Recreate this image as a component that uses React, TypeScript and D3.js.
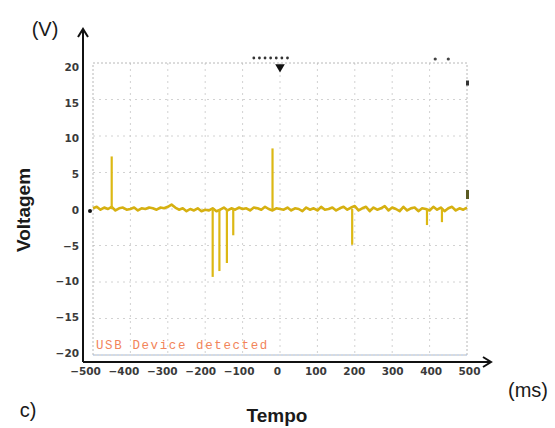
import { useRef, useEffect } from "react";
import * as d3 from "d3";

// tick labels
const timeTicks = [-500, -400, -300, -200, -100, 0, 100, 200, 300, 400, 500];
const voltTicks = [-20, -15, -10, -5, 0, 5, 10, 15, 20];

// baseline trace, one reading every 10 ms from -500 to 500 (V)
const baselineVolts = [
  0.1, 0.3, -0.1, 0.2, 0.0, 0.3, -0.2, 0.1, 0.2, -0.1,
  0.0, 0.2, -0.2, 0.1, 0.0, 0.2, 0.1, -0.1, 0.2, 0.1,
  0.3, 0.6, 0.2, -0.1, 0.1, -0.3, 0.0, -0.2, 0.1, -0.3,
  -0.1, -0.2, 0.1, -0.3, -0.1, 0.2, -0.2, 0.1, -0.1, 0.2,
  0.0, 0.1, -0.2, 0.2, 0.1, -0.1, 0.3, 0.0, -0.2, 0.1,
  0.0, -0.1, 0.2, -0.2, 0.1, 0.0, -0.3, 0.2, -0.1, 0.1,
  -0.2, 0.3, -0.1, 0.0, 0.2, -0.2, 0.1, 0.3, -0.1, 0.2,
  0.4, -0.2, 0.1, 0.3, -0.3, 0.2, -0.1, 0.1, 0.4, -0.2,
  0.2, 0.0, -0.3, 0.3, -0.2, 0.1, 0.2, -0.3, 0.1, 0.0,
  -0.2, 0.3, -0.1, 0.2, -0.3, 0.1, 0.3, -0.2, 0.1, -0.1,
  0.2,
];

// narrow spikes (ms, V)
const spikeTimes = [-450, -180, -162, -142, -125, -20, 193, 393, 433];
const spikeVolts = [7.2, -9.3, -8.5, -7.4, -3.6, 8.3, -4.9, -2.2, -1.8];

const W = 555;
const H = 428;

function App() {
  const svgRef = useRef(null);

  useEffect(() => {
    const svg = d3.select(svgRef.current);
    svg.selectAll("*").remove();

    // plot area (oscilloscope screen)
    const x = d3.scaleLinear().domain([-500, 500]).range([93, 467]);
    const y = d3.scaleLinear().domain([-20, 20]).range([355, 63]);
    // the printed labels sit a little off the screen grid
    const xLab = x.copy().range([85, 469]);
    const yLab = y.copy().range([353, 67]);

    const axisX = 83;
    const axisY = 362;

    // grid
    const grid = svg.append("g").attr("stroke", "#d2d2d2").attr("stroke-width", 1);
    grid
      .selectAll("line.v")
      .data(d3.range(-400, 500, 100))
      .join("line")
      .attr("x1", (d) => x(d))
      .attr("x2", (d) => x(d))
      .attr("y1", y(20))
      .attr("y2", y(-20))
      .attr("stroke-dasharray", "2,4");
    grid
      .selectAll("line.h")
      .data(d3.range(-15, 20, 5))
      .join("line")
      .attr("x1", x(-500))
      .attr("x2", x(500))
      .attr("y1", (d) => y(d))
      .attr("y2", (d) => y(d))
      .attr("stroke-dasharray", "2,4");

    // screen border
    svg
      .append("rect")
      .attr("x", x(-500))
      .attr("y", y(20))
      .attr("width", x(500) - x(-500))
      .attr("height", y(-20) - y(20))
      .attr("fill", "none")
      .attr("stroke", "#b8b8b8")
      .attr("stroke-dasharray", "2,2");
    svg
      .append("line")
      .attr("x1", x(-500))
      .attr("x2", x(500))
      .attr("y1", y(-20))
      .attr("y2", y(-20))
      .attr("stroke", "#9fb6d8")
      .attr("stroke-dasharray", "2,2");

    // scope markers
    svg
      .append("path")
      .attr("d", d3.symbol(d3.symbolTriangle, 40)())
      .attr("transform", `translate(${x(0)},${y(20) + 4}) rotate(180)`)
      .attr("fill", "#111");
    svg
      .append("g")
      .selectAll("circle")
      .data([-70, -55, -40, -25, -10, 5, 20])
      .join("circle")
      .attr("cx", (d) => x(d))
      .attr("cy", y(20) - 5)
      .attr("r", 1.4)
      .attr("fill", "#333");
    svg
      .append("g")
      .selectAll("circle")
      .data([415, 450])
      .join("circle")
      .attr("cx", (d) => x(d))
      .attr("cy", y(20) - 4)
      .attr("r", 1.6)
      .attr("fill", "#444");
    svg
      .append("circle")
      .attr("cx", x(-500) - 3)
      .attr("cy", y(0) + 2)
      .attr("r", 2)
      .attr("fill", "#111");
    svg
      .append("rect")
      .attr("x", x(500) - 1)
      .attr("y", y(17.6))
      .attr("width", 3)
      .attr("height", 5)
      .attr("fill", "#333");
    svg
      .append("rect")
      .attr("x", x(500) - 1)
      .attr("y", y(2.6))
      .attr("width", 3)
      .attr("height", 9)
      .attr("fill", "#5a5a22");

    // trace
    const gold = "#dcb814";
    const line = d3
      .line<number>()
      .x((d, i) => x(-500 + i * 10))
      .y((d) => y(d));
    svg
      .append("path")
      .datum(baselineVolts)
      .attr("d", line)
      .attr("fill", "none")
      .attr("stroke", "#d6b010")
      .attr("stroke-width", 2.6)
      .attr("stroke-linejoin", "round");
    svg
      .append("g")
      .selectAll("line")
      .data(spikeTimes)
      .join("line")
      .attr("x1", (d) => x(d))
      .attr("x2", (d) => x(d))
      .attr("y1", y(0))
      .attr("y2", (d, i) => y(spikeVolts[i]))
      .attr("stroke", gold)
      .attr("stroke-width", 2.2);

    // status text
    svg
      .append("text")
      .attr("x", x(-500) + 3)
      .attr("y", y(-20) - 6)
      .attr("font-family", "Liberation Mono, DejaVu Sans Mono, monospace")
      .attr("font-size", 12.5)
      .attr("letter-spacing", 1.6)
      .attr("fill", "#f2845a")
      .text("USB Device detected");

    // axes with arrows
    const axes = svg.append("g").attr("stroke", "#111").attr("stroke-width", 2).attr("fill", "none");
    axes.append("line").attr("x1", axisX).attr("x2", axisX).attr("y1", axisY).attr("y2", 29);
    axes.append("path").attr("d", `M${axisX - 5},${37} L${axisX},${29} L${axisX + 5},${37}`);
    axes.append("line").attr("x1", axisX).attr("x2", 491).attr("y1", axisY).attr("y2", axisY);
    axes.append("path").attr("d", `M${483},${axisY - 5} L${491},${axisY} L${483},${axisY + 5}`);

    const tickFont = (g) =>
      g
        .attr("font-family", "DejaVu Sans, sans-serif")
        .attr("font-size", 10.5)
        .attr("font-weight", "bold")
        .call((s) => s.select(".domain").remove())
        .call((s) => s.selectAll("text").attr("fill", "#3a3a3a"));

    svg
      .append("g")
      .attr("transform", `translate(${axisX - 4},0)`)
      .call(d3.axisLeft(yLab).tickValues(voltTicks).tickSize(0).tickPadding(0))
      .call(tickFont);

    svg
      .append("g")
      .attr("transform", `translate(0,${axisY + 4})`)
      .call(d3.axisBottom(xLab).tickValues(timeTicks).tickSize(0).tickPadding(2))
      .call(tickFont);

    // titles
    const title = (txt, tx, ty, size, rot = 0) =>
      svg
        .append("text")
        .attr("transform", `translate(${tx},${ty}) rotate(${rot})`)
        .attr("text-anchor", "middle")
        .attr("font-family", "Liberation Sans, Arial, sans-serif")
        .attr("font-size", size)
        .attr("fill", "#1a1a1a")
        .text(txt);

    title("(V)", 45, 36, 20);
    title("(ms)", 528, 397, 20);
    title("c)", 28, 417, 20);
    title("Tempo", 277, 422, 19).attr("font-weight", "bold");
    title("Voltagem", 30, 210, 19, -90).attr("font-weight", "bold");
  }, []);

  return (
    <svg
      ref={svgRef}
      width={W}
      height={H}
      style={{ position: "absolute", left: 0, top: 0, background: "#fff" }}
    />
  );
}

export default App;
